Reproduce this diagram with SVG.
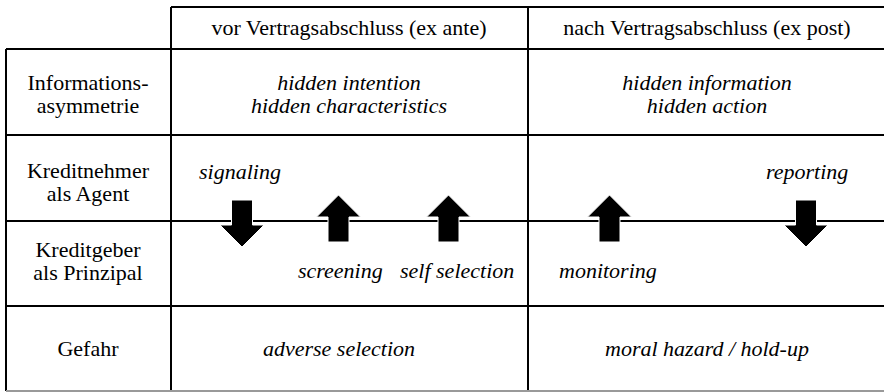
<svg xmlns="http://www.w3.org/2000/svg" width="884" height="392" viewBox="0 0 884 392">
<style>
.g{stroke:#000;stroke-width:2;fill:none}
text{font-family:'Liberation Serif','Times New Roman',serif;font-size:22px;fill:#000}
.c{text-anchor:middle}
.i{font-style:italic}
.a{fill:#000;stroke:#fff;stroke-width:1}
</style>
<rect width="884" height="392" fill="#fff"/>
<g id="grid">
<path class="g" d="M171 7H884M6 49H884M6 135H884M6 221H884M6 306H884M6 49V391M171 7V391M528 7V391"/>
<path d="M6 391H884" stroke="#999" stroke-width="2"/>
</g>
<g id="header">
<text class="c" x="349" y="35">vor Vertragsabschluss (ex ante)</text>
<text class="c" x="707" y="35">nach Vertragsabschluss (ex post)</text>
</g>
<g id="row-labels">
<text class="c" x="88" y="90">Informations-</text>
<text class="c" x="88" y="113">asymmetrie</text>
<text class="c" x="88" y="178">Kreditnehmer</text>
<text class="c" x="88" y="201">als Agent</text>
<text class="c" x="88" y="257">Kreditgeber</text>
<text class="c" x="88" y="280">als Prinzipal</text>
<text class="c" x="88" y="356">Gefahr</text>
</g>
<g id="asym">
<text class="c i" x="349" y="90">hidden intention</text>
<text class="c i" x="349" y="113">hidden characteristics</text>
<text class="c i" x="707" y="90">hidden information</text>
<text class="c i" x="707" y="113">hidden action</text>
</g>
<g id="danger">
<text class="c i" x="339" y="356">adverse selection</text>
<text class="c i" x="707" y="356">moral hazard / hold-up</text>
</g>
<g id="connectors">
<path class="a" d="M231.5 200H252.5V225H264L242 247L220 225H231.5Z"/>
<path class="a" d="M795.5 200H816.5V225H828L806 247L784 225H795.5Z"/>
<path class="a" d="M328 242V217H316.5L338.5 195L360.5 217H349V242Z"/>
<path class="a" d="M438 242V217H426.5L448.5 195L470.5 217H459V242Z"/>
<path class="a" d="M599 242V217H587.5L609.5 195L631.5 217H620V242Z"/>
</g>
<g id="measures">
<text class="i" x="199" y="179">signaling</text>
<text class="i" x="766" y="179">reporting</text>
<text class="i" x="298" y="278">screening</text>
<text class="i" x="400" y="278">self selection</text>
<text class="i" x="559" y="278">monitoring</text>
</g>
</svg>
